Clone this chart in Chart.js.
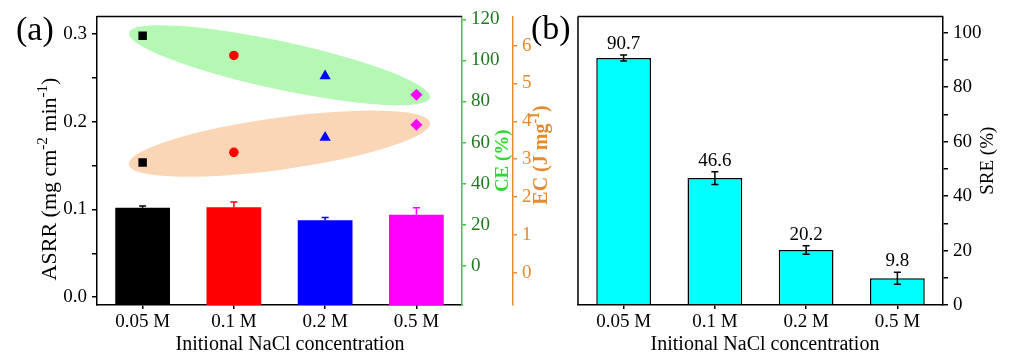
<!DOCTYPE html>
<html>
<head>
<meta charset="utf-8">
<script src="https://cdn.jsdelivr.net/npm/chart.js"></script>
<style>
  body { margin: 0; background: #fff; width: 1035px; height: 362px; overflow: hidden; position: relative; }
  canvas { position: absolute; top: 0; }
  #chartA { left: 0; }
  #chartB { left: 520px; }
  .tag { position: absolute; font-family: "Liberation Serif", serif; font-size: 34px; line-height: 1; color: #000; }
</style>
</head>
<body>
<canvas id="chartA" width="560" height="362"></canvas>
<canvas id="chartB" width="515" height="362"></canvas>
<div class="tag" style="left:16px;top:12px">(a)</div>
<div class="tag" style="left:531px;top:11px">(b)</div>
<script>
// categories
const concentrations = ["0.05 M", "0.1 M", "0.2 M", "0.5 M"];

// panel (a)
const asrr = [0.102, 0.1025, 0.0878, 0.094];
const asrrErr = [0.002, 0.006, 0.003, 0.008];
const ce = [112, 102.4, 92.4, 83.3];
const ec = [2.91, 3.18, 3.57, 3.91];
const asrrTicks = [0, 0.05, 0.1, 0.15, 0.2, 0.25, 0.3];
const ceTicks = [0, 20, 40, 60, 80, 100, 120];
const ecTicks = [0, 1, 2, 3, 4, 5, 6];

// panel (b)
const sre = [90.7, 46.6, 20.2, 9.8];
const sreErr = [1.1, 2.3, 1.6, 2.2];
const sreTicks = [0, 10, 20, 30, 40, 50, 60, 70, 80, 90, 100];

const barColors = ["#000000", "#ff0000", "#0000ff", "#ff00ff"];
const markerStyles = ["rect", "circle", "triangle", "rectRot"];
const markerSizes = [6, 4.8, 6.5, 6];

const SERIF = '"Liberation Serif", "Times New Roman", serif';
Chart.defaults.font.family = SERIF;
Chart.defaults.color = "#000";

const GREEN_LINE = "#33cc33";
const GREEN_TEXT = "#1f7a1f";
const GREEN_TITLE = "#2ed82e";
const ORANGE = "#e68a2e";

// draws a line of text where some parts are superscripts
function drawRich(ctx, parts, x, y, size, weight, color, rot) {
  ctx.save();
  ctx.translate(x, y);
  ctx.rotate(rot);
  const fontFor = (sup) => `${weight} ${sup ? Math.round(size * 0.68) : size}px ${SERIF}`;
  let w = 0;
  for (const p of parts) {
    ctx.font = fontFor(p.sup);
    w += ctx.measureText(p.t).width;
  }
  let cx = -w / 2;
  ctx.fillStyle = color;
  ctx.textBaseline = "middle";
  ctx.textAlign = "left";
  for (const p of parts) {
    ctx.font = fontFor(p.sup);
    ctx.fillText(p.t, cx, p.sup ? -size * 0.33 : 0);
    cx += ctx.measureText(p.t).width;
  }
  ctx.restore();
}

const errorBars = {
  id: "errorBars",
  afterDatasetsDraw(chart, args, opts) {
    const { ctx } = chart;
    const x = chart.scales.x;
    const y = chart.scales[opts.axis];
    ctx.save();
    ctx.lineWidth = 1.5;
    opts.values.forEach((v, i) => {
      const px = x.getPixelForValue(i);
      const top = y.getPixelForValue(v + opts.errors[i]);
      const bot = opts.both ? y.getPixelForValue(v - opts.errors[i]) : y.getPixelForValue(v);
      ctx.strokeStyle = opts.colors ? opts.colors[i] : "#000";
      ctx.beginPath();
      ctx.moveTo(px, top); ctx.lineTo(px, bot);
      ctx.moveTo(px - 3.5, top); ctx.lineTo(px + 3.5, top);
      if (opts.both) { ctx.moveTo(px - 3.5, bot); ctx.lineTo(px + 3.5, bot); }
      ctx.stroke();
      if (opts.labels) {
        ctx.fillStyle = "#000";
        ctx.font = `19px ${SERIF}`;
        ctx.textAlign = "center";
        ctx.textBaseline = "middle";
        ctx.fillText(v.toFixed(1), px, top - 11);
      }
    });
    ctx.restore();
  }
};

// shaded ellipses behind the CE and EC markers
const ellipses = {
  id: "ellipses",
  beforeDatasetsDraw(chart, args, opts) {
    const { ctx } = chart;
    const x = chart.scales.x;
    for (const e of opts.items) {
      const y = chart.scales[e.axis];
      const n = e.values.length - 1;
      const x0 = x.getPixelForValue(0), y0 = y.getPixelForValue(e.values[0]);
      const x1 = x.getPixelForValue(n), y1 = y.getPixelForValue(e.values[n]);
      const ang = Math.atan2(y1 - y0, x1 - x0);
      const a = Math.hypot(x1 - x0, y1 - y0) / 2 + 14;
      ctx.save();
      ctx.fillStyle = e.color;
      ctx.beginPath();
      ctx.ellipse((x0 + x1) / 2, (y0 + y1) / 2, a, e.b, ang, 0, Math.PI * 2);
      ctx.fill();
      ctx.restore();
    }
  }
};

const frameAndTitles = {
  id: "frameAndTitles",
  afterDraw(chart, args, opts) {
    const { ctx, chartArea: ca } = chart;
    ctx.save();
    ctx.strokeStyle = "#000";
    ctx.lineWidth = 1.5;
    ctx.beginPath();
    ctx.moveTo(ca.left, ca.top); ctx.lineTo(ca.right, ca.top);
    if (opts.leftLine) { ctx.moveTo(ca.left, ca.top); ctx.lineTo(ca.left, ca.bottom); }
    ctx.stroke();
    ctx.restore();
    const midY = (ca.top + ca.bottom) / 2;
    for (const t of opts.titles) {
      drawRich(ctx, t.parts, t.x, t.y ?? midY, t.size, t.weight || "normal", t.color || "#000", t.rot ?? -Math.PI / 2);
    }
  }
};

const fixTicks = (vals) => (scale) => { scale.ticks = vals.map((v) => ({ value: v })); };
const every = (step) => (v) => Math.abs(v / step - Math.round(v / step)) < 1e-6 ? v : "";

function xAxis() {
  return {
    type: "category",
    offset: true,
    afterFit: (s) => { s.height = 57; },
    border: { display: true, color: "#000", width: 1.5 },
    grid: { display: true, drawOnChartArea: false, offset: false, tickLength: 4, color: "#000", lineWidth: 1.5 },
    ticks: { font: { size: 19 }, color: "#000", padding: 2, maxRotation: 0 }
  };
}

// panel (a)
new Chart(document.getElementById("chartA"), {
  type: "bar",
  data: {
    labels: concentrations,
    datasets: [
      {
        type: "line", label: "CE", data: ce, yAxisID: "ce", showLine: false,
        pointStyle: markerStyles, pointRadius: markerSizes,
        pointBackgroundColor: barColors, pointBorderColor: barColors, pointBorderWidth: 0
      },
      {
        type: "line", label: "EC", data: ec, yAxisID: "ec", showLine: false,
        pointStyle: markerStyles, pointRadius: markerSizes,
        pointBackgroundColor: barColors, pointBorderColor: barColors, pointBorderWidth: 0
      },
      {
        label: "ASRR", data: asrr, yAxisID: "y", backgroundColor: barColors,
        base: -0.0089, categoryPercentage: 1, barPercentage: 0.6
      }
    ]
  },
  options: {
    responsive: false,
    animation: false,
    layout: { padding: { top: 10, left: 0, right: 0, bottom: 0 } },
    plugins: {
      legend: { display: false },
      tooltip: { enabled: false },
      errorBars: { axis: "y", values: asrr, errors: asrrErr, colors: barColors, both: false },
      ellipses: {
        items: [
          { axis: "ce", values: ce, color: "#b4f8b4", b: 24 },
          { axis: "ec", values: ec, color: "#fad6b6", b: 26 }
        ]
      },
      frameAndTitles: {
        leftLine: false,
        titles: [
          { parts: [{ t: "ASRR (mg cm" }, { t: "-2", sup: true }, { t: " min" }, { t: "-1", sup: true }, { t: ")" }], x: 50, y: 179, size: 22 },
          { parts: [{ t: "CE (%)" }], x: 503, size: 19, weight: "bold", color: GREEN_TITLE },
          { parts: [{ t: "EC (J mg" }, { t: "-1", sup: true }, { t: ")" }], x: 542, y: 155, size: 20, weight: "bold", color: ORANGE },
          { parts: [{ t: "Initional NaCl concentration" }], x: 290, y: 345, size: 20, rot: 0 }
        ]
      }
    },
    scales: {
      x: xAxis(),
      y: {
        position: "left", min: -0.0089, max: 0.32,
        afterFit: (s) => { s.width = 97; },
        afterBuildTicks: fixTicks(asrrTicks),
        border: { display: true, color: "#000", width: 1.5 },
        grid: { display: true, drawOnChartArea: false, tickLength: 5, color: "#000", lineWidth: 1.5 },
        ticks: { font: { size: 19 }, color: "#000", padding: 5, callback: (v) => { const r = every(0.1)(v); return r === "" ? "" : v.toFixed(1); } }
      },
      ce: {
        position: "right", weight: 0, min: -19, max: 121.4,
        afterFit: (s) => { s.width = 51; },
        afterBuildTicks: fixTicks(ceTicks),
        border: { display: true, color: GREEN_LINE, width: 1.5 },
        grid: { display: true, drawOnChartArea: false, tickLength: 4, color: GREEN_LINE, lineWidth: 1.5 },
        ticks: { font: { size: 19 }, color: GREEN_TEXT, padding: 5 }
      },
      ec: {
        position: "right", weight: 1, min: -0.85, max: 6.77,
        afterFit: (s) => { s.width = 47; },
        afterBuildTicks: fixTicks(ecTicks),
        border: { display: true, color: ORANGE, width: 1.5 },
        grid: { display: true, drawOnChartArea: false, tickLength: 4, color: ORANGE, lineWidth: 1.5 },
        ticks: { font: { size: 19 }, color: ORANGE, padding: 5 }
      }
    }
  },
  plugins: [ellipses, errorBars, frameAndTitles]
});

// panel (b)
new Chart(document.getElementById("chartB"), {
  type: "bar",
  data: {
    labels: concentrations,
    datasets: [{
      label: "SRE", data: sre, yAxisID: "sre", backgroundColor: "#00ffff",
      borderColor: "#000", borderWidth: 1.5, categoryPercentage: 1, barPercentage: 0.6
    }]
  },
  options: {
    responsive: false,
    animation: false,
    layout: { padding: { top: 9, left: 58, right: 0, bottom: 0 } },
    plugins: {
      legend: { display: false },
      tooltip: { enabled: false },
      errorBars: { axis: "sre", values: sre, errors: sreErr, both: true, labels: true },
      frameAndTitles: {
        leftLine: true,
        titles: [
          { parts: [{ t: "SRE (%)" }], x: 468, size: 19 },
          { parts: [{ t: "Initional NaCl concentration" }], x: 245, y: 345, size: 20, rot: 0 }
        ]
      }
    },
    scales: {
      x: xAxis(),
      sre: {
        position: "right", min: 0, max: 106,
        afterFit: (s) => { s.width = 92; },
        afterBuildTicks: fixTicks(sreTicks),
        border: { display: true, color: "#000", width: 1.5 },
        grid: { display: true, drawOnChartArea: false, tickLength: 5, color: "#000", lineWidth: 1.5 },
        ticks: { font: { size: 19 }, color: "#000", padding: 5, callback: (v) => every(20)(v) }
      }
    }
  },
  plugins: [errorBars, frameAndTitles]
});
</script>
</body>
</html>
